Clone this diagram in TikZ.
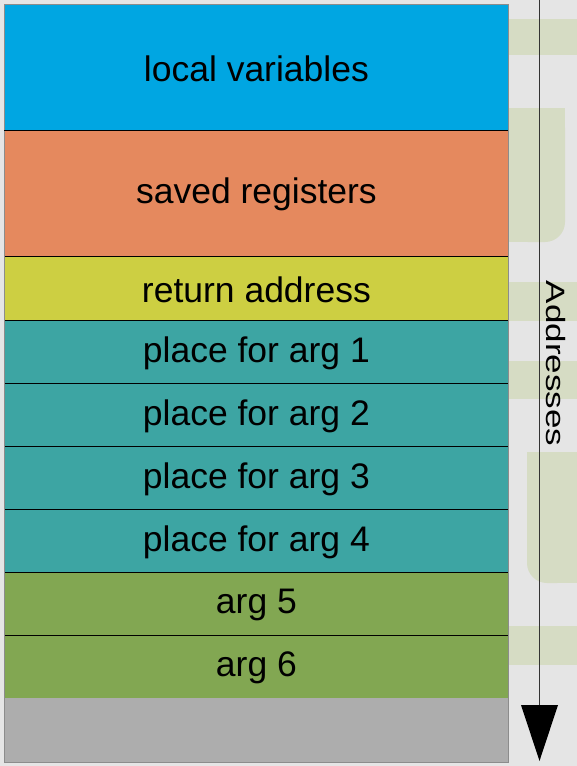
\documentclass[tikz,border=0pt]{standalone}
\usepackage{fontspec}
\setmainfont{Liberation Sans}
\usepackage{graphicx}
\definecolor{bgc}{HTML}{E5E5E5}
\definecolor{shp}{HTML}{D6DCC4}
\definecolor{cLocal}{HTML}{00A6E2}
\definecolor{cSaved}{HTML}{E5895E}
\definecolor{cRet}{HTML}{CDCF42}
\definecolor{cPlace}{HTML}{3DA5A3}
\definecolor{cArg}{HTML}{82A752}
\definecolor{cGrey}{HTML}{ADADAD}
\definecolor{lineC}{HTML}{333333}
\tikzset{
  slot/.style={draw=black, line width=0.8pt, minimum width=504pt, inner sep=0pt, anchor=north west,
    font=\fontsize{35.5}{40}\selectfont, text=black},
  lbl/.style={font=\fontsize{35.5}{40}\selectfont, text=black, inner sep=0pt},
  bgshape/.style={fill=shp, draw=none}
}
\begin{document}
\begin{tikzpicture}[x=1pt,y=-1pt]
\useasboundingbox (0,0) rectangle (577,766);
\fill[bgc] (0,0) rectangle (577,766);
% light shapes in the right strip
\fill[shp] (508,19) rectangle (577,55);
\fill[shp, rounded corners=20pt] (508,108) -- (565,108) -- (565,242) -- (508,242) [sharp corners] -- cycle;
\fill[shp] (508,108) rectangle (540,242);
\fill[shp] (508,108) rectangle (565,200);
\fill[shp] (508,282) rectangle (577,321);
\fill[shp] (508,361) rectangle (577,399);
\fill[shp, rounded corners=20pt] (577,452) -- (527,452) -- (527,583) -- (577,583) -- cycle;
\fill[shp] (550,452) rectangle (577,583);
\fill[shp] (527,452) rectangle (577,540);
\fill[shp] (508,626) rectangle (577,665);
% stack slots
\node[slot, fill=cLocal, minimum height=126pt] (lv) at (4,4) {};
\node[slot, fill=cSaved, minimum height=126pt] (sr) at (4,130) {};
\node[slot, fill=cRet, minimum height=64pt] (ra) at (4,256) {};
\node[slot, fill=cPlace, minimum height=63pt] (p1) at (4,320) {};
\node[slot, fill=cPlace, minimum height=63pt] (p2) at (4,383) {};
\node[slot, fill=cPlace, minimum height=63pt] (p3) at (4,446) {};
\node[slot, fill=cPlace, minimum height=63pt] (p4) at (4,509) {};
\node[slot, fill=cArg, minimum height=63pt] (a5) at (4,572) {};
\node[slot, fill=cArg, minimum height=63pt] (a6) at (4,635) {};
\node[slot, fill=cGrey, draw=none, minimum height=64pt] (gr) at (4,698) {};
\draw[gray!90, line width=1pt] (4,4) rectangle (508,762);
\draw[black, line width=0.8pt] (4,130) -- (508,130);
% labels
\node[lbl, yshift=-1pt] (tlv) at (lv.center) {local variables};
\node[lbl, yshift=-1pt] (tsr) at (sr.center) {saved registers};
\node[lbl, yshift=-1pt] (tra) at (ra.center) {return address};
\node[lbl, yshift=-1pt] (tp1) at (p1.center) {place for arg 1};
\node[lbl, yshift=-1pt] (tp2) at (p2.center) {place for arg 2};
\node[lbl, yshift=-1pt] (tp3) at (p3.center) {place for arg 3};
\node[lbl, yshift=-1pt] (tp4) at (p4.center) {place for arg 4};
\node[lbl, yshift=-1pt] (ta5) at (a5.center) {arg 5};
\node[lbl, yshift=-1pt] (ta6) at (a6.center) {arg 6};
% address arrow
\coordinate (atop) at (539.5,0);
\coordinate (abot) at (539.5,705);
\draw[lineC, line width=1pt] (atop) -- (abot);
\fill[black] (521,705) -- (558,705) -- (539.5,761) -- cycle;
\node[rotate=-90, inner sep=0pt, font=\fontsize{26.5}{30}\selectfont] (addr) at (555.5,363.5) {\scalebox{1.32}[1]{Addresses}};
\end{tikzpicture}
\end{document}
